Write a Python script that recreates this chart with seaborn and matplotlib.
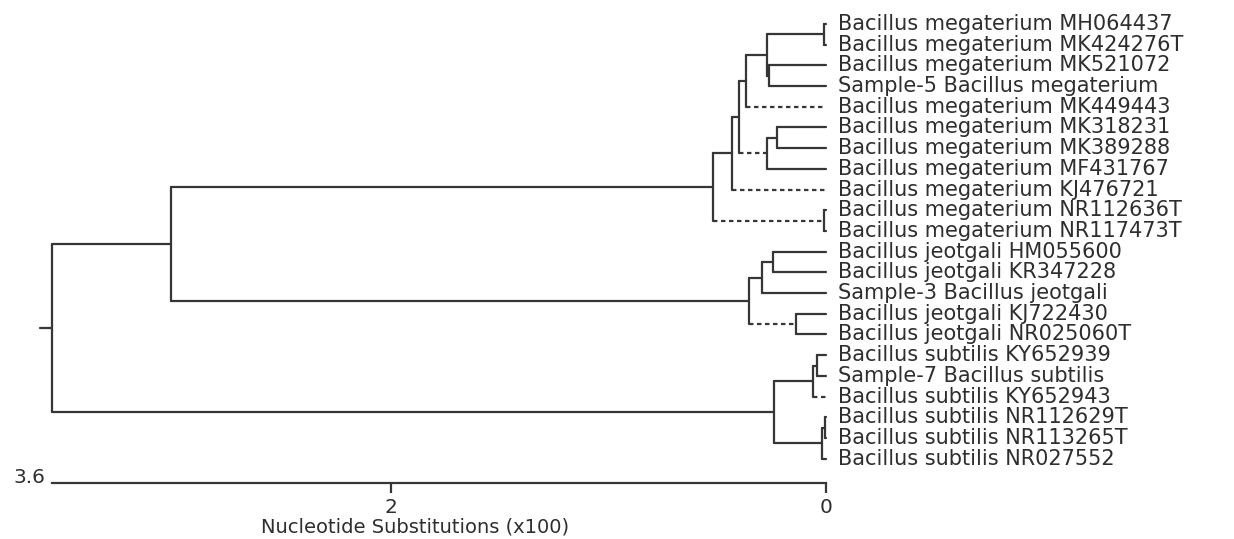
import numpy as np
import pandas as pd
import matplotlib
matplotlib.use("Agg")
import matplotlib.pyplot as plt
import seaborn as sns

# ---------------- data ----------------
leaf_names = [
    "Bacillus megaterium MH064437",
    "Bacillus megaterium MK424276T",
    "Bacillus megaterium MK521072",
    "Sample-5 Bacillus megaterium",
    "Bacillus megaterium MK449443",
    "Bacillus megaterium MK318231",
    "Bacillus megaterium MK389288",
    "Bacillus megaterium MF431767",
    "Bacillus megaterium KJ476721",
    "Bacillus megaterium NR112636T",
    "Bacillus megaterium NR117473T",
    "Bacillus jeotgali HM055600",
    "Bacillus jeotgali KR347228",
    "Sample-3 Bacillus jeotgali",
    "Bacillus jeotgali KJ722430",
    "Bacillus jeotgali NR025060T",
    "Bacillus subtilis KY652939",
    "Sample-7 Bacillus subtilis",
    "Bacillus subtilis KY652943",
    "Bacillus subtilis NR112629T",
    "Bacillus subtilis NR113265T",
    "Bacillus subtilis NR027552",
]

# internal nodes (post-order), depth in nucleotide substitutions (x100)
node_names = ["n_mh", "n_q", "n_p", "n_r", "n_u", "n_t", "n_s", "n_v",
              "n_nr", "n_w", "n_x", "n_y", "n_kj", "n_z", "n_mj",
              "n_su_in", "n_su_out", "n_sl_in", "n_sl_out", "n_sub", "root"]
node_depths = [0.01, 0.26, 0.27, 0.37, 0.225, 0.27, 0.40, 0.43,
               0.01, 0.52, 0.245, 0.295, 0.14, 0.355, 3.01,
               0.04, 0.06, 0.005, 0.02, 0.24, 3.56]
node_children = [[0, 1], [2, 3], ["n_mh", "n_q"], ["n_p", 4], [5, 6],
                 ["n_u", 7], ["n_r", "n_t"], ["n_s", 8], [9, 10],
                 ["n_v", "n_nr"], [11, 12], ["n_x", 13], [14, 15],
                 ["n_y", "n_kj"], ["n_w", "n_z"], [16, 17], ["n_su_in", 18],
                 [19, 20], ["n_sl_in", 21], ["n_su_out", "n_sl_out"],
                 ["n_mj", "n_sub"]]
dashed_edges = [4, "n_t", 8, "n_nr", "n_kj", 18]
root_stub = 0.055

scale_ticks = [2, 0]
scale_tick_labels = ["2", "0"]
scale_max_label = "3.6"
axis_title = "Nucleotide Substitutions (x100)"

# ---------------- build segments ----------------
ys = {i: float(i) for i in range(len(leaf_names))}
xs = {i: 0.0 for i in range(len(leaf_names))}
rows = []
seg = 0
for name, depth, kids in zip(node_names, node_depths, node_children):
    kid_y = [ys[k] for k in kids]
    ys[name] = float(np.mean(kid_y))
    xs[name] = depth
    rows.append((depth, min(kid_y), seg, "solid"))
    rows.append((depth, max(kid_y), seg, "solid"))
    seg += 1
    for k in kids:
        kind = "dashed" if k in dashed_edges else "solid"
        rows.append((depth, ys[k], seg, kind))
        rows.append((xs[k], ys[k], seg, kind))
        seg += 1
root_depth = xs["root"]
rows.append((root_depth + root_stub, ys["root"], seg, "solid"))
rows.append((root_depth, ys["root"], seg, "solid"))
df = pd.DataFrame(rows, columns=["x", "y", "seg", "kind"])

# ---------------- plot ----------------
sns.set_theme(style="white")
plt.rcParams["font.family"] = ["DejaVu Sans"]
line_col = "#363636"
text_col = "#2e2e2e"

fig = plt.figure(figsize=(12.34, 5.39), dpi=100)
ax = fig.add_axes([0, 0, 1, 1])
sns.lineplot(data=df, x="x", y="y", units="seg", estimator=None, sort=False,
             style="kind", dashes={"solid": "", "dashed": (2, 1.6)},
             color=line_col, linewidth=1.6, legend=False, ax=ax)

ax.set_xlim(3.798, -1.876)
ax.set_ylim(24.88, -1.159)
ax.set_xlabel("")
ax.set_ylabel("")
ax.set_yticks([])

for i, name in enumerate(leaf_names):
    ax.text(-0.055, i, name, ha="left", va="center", fontsize=15,
            color=text_col)

# scale bar as the x axis
bar_y = 22.17
for s in ["left", "right", "top"]:
    ax.spines[s].set_visible(False)
ax.spines["bottom"].set_position(("data", bar_y))
ax.spines["bottom"].set_bounds(0, root_depth)
ax.spines["bottom"].set_color(line_col)
ax.spines["bottom"].set_linewidth(1.6)
ax.set_xticks(scale_ticks)
ax.set_xticklabels(scale_tick_labels)
ax.tick_params(axis="x", direction="out", length=7, width=1.6,
               color=line_col, pad=4, labelsize=14.5, labelcolor=text_col,
               bottom=True)
ax.text(root_depth + 0.03, bar_y, scale_max_label, ha="right",
        va="baseline", fontsize=14.5, color=text_col)
ax.text(1.89, 24.78, axis_title, ha="center", va="bottom", fontsize=14,
        color=text_col)

fig.savefig("out.png", dpi=100, facecolor="white")
